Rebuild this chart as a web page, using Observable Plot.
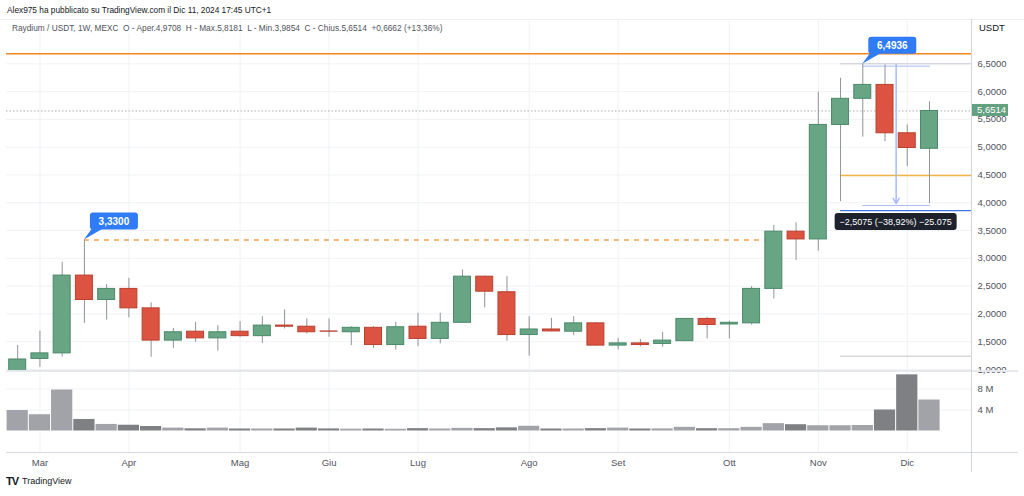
<!DOCTYPE html>
<html><head><meta charset="utf-8">
<script src="https://cdn.jsdelivr.net/npm/d3@7"></script>
<script src="https://cdn.jsdelivr.net/npm/@observablehq/plot@0.6"></script>
<style>
html,body{margin:0;padding:0;background:#fff;}
#root{position:relative;width:1024px;height:496px;overflow:hidden;font-family:"Liberation Sans",Arial,sans-serif;color:#131722;}
.abs{position:absolute;white-space:pre;}
</style></head><body><div id="root"></div>
<script>
// ---------- data ----------
const dates = ["2024-02-26","2024-03-04","2024-03-11","2024-03-18","2024-03-25","2024-04-01","2024-04-08","2024-04-15","2024-04-22","2024-04-29",
"2024-05-06","2024-05-13","2024-05-20","2024-05-27","2024-06-03","2024-06-10","2024-06-17","2024-06-24","2024-07-01","2024-07-08",
"2024-07-15","2024-07-22","2024-07-29","2024-08-05","2024-08-12","2024-08-19","2024-08-26","2024-09-02","2024-09-09","2024-09-16",
"2024-09-23","2024-09-30","2024-10-07","2024-10-14","2024-10-21","2024-10-28","2024-11-04","2024-11-11","2024-11-18","2024-11-25",
"2024-12-02","2024-12-09"];
const opens  = [0.97,1.19,1.29,2.69,2.25,2.45,2.10,1.52,1.68,1.56, 1.68,1.60,1.79,1.77,1.685,1.67,1.75,1.44,1.77,1.55, 1.84,2.67,2.39,1.62,1.72,1.68,1.83,1.43,1.47,1.46, 1.51,1.91,1.81,1.83,2.45,3.48,3.34,5.40,5.87,6.12, 5.25,4.9708];
const highs  = [1.43,1.69,2.93,3.33,2.53,2.64,2.20,1.74,1.85,1.79, 1.86,1.95,2.07,1.91,1.91,1.77,1.77,1.85,2.01,2.01, 2.79,2.68,2.67,1.95,1.92,1.95,1.84,1.56,1.54,1.67, 1.91,1.94,1.87,2.49,3.59,3.64,5.99,6.24,6.4936,6.48, 5.40,5.8181];
const lows   = [0.96,1.04,1.22,1.83,1.89,1.93,1.22,1.38,1.49,1.33, 1.58,1.47,1.73,1.64,1.58,1.43,1.38,1.35,1.41,1.46, 1.83,2.11,1.51,1.24,1.68,1.61,1.42,1.35,1.41,1.40, 1.50,1.55,1.55,1.80,2.27,2.96,3.13,4.02,5.18,5.10, 4.65,3.9854];
const closes = [1.18,1.29,2.69,2.25,2.45,2.10,1.52,1.67,1.56,1.67, 1.60,1.79,1.77,1.67,1.68,1.75,1.44,1.76,1.55,1.84, 2.67,2.40,1.62,1.72,1.685,1.83,1.43,1.47,1.44,1.52, 1.91,1.80,1.84,2.45,3.48,3.34,5.40,5.87,6.12,5.25, 4.9852,5.6514];
const volumes = [3.9,3.1,7.8,2.2,1.25,1.1,0.86,0.55,0.42,0.55, 0.38,0.38,0.38,0.55,0.4,0.35,0.38,0.33,0.45,0.38, 0.5,0.45,0.6,0.9,0.38,0.38,0.45,0.55,0.38,0.4, 0.7,0.44,0.44,0.7,1.4,1.2,1.0,1.0,1.05,4.0, 10.7,5.9]; // millions
const priceTicks = [1.0,1.5,2.0,2.5,3.0,3.5,4.0,4.5,5.0,5.5,6.0,6.5];
const volumeTicks = [4, 8];
const monthTickDates = ["2024-03-04","2024-04-01","2024-05-06","2024-06-03","2024-07-01","2024-08-05","2024-09-02","2024-10-07","2024-11-04","2024-12-02"];
const monthTickLabels = ["Mar","Apr","Mag","Giu","Lug","Ago","Set","Ott","Nov","Dic"];
const resistanceLevel = 6.68;
const marchHigh = 3.33;
const marchHighLabel = "3,3300";
const novemberHigh = 6.4936;
const novemberHighLabel = "6,4936";
const levelGray = 6.5, levelYellow = 4.49, levelBlue = 3.86, levelLow = 1.24;
const measureFrom = 6.4936, measureTo = 3.9861;
const measureLabel = "\u22122,5075 (\u221238,92%) \u221225.075";

// ---------- helpers ----------
const day = 864e5;
const candles = dates.map((d, i) => ({date: new Date(d), open: opens[i], high: highs[i], low: lows[i], close: closes[i], volume: volumes[i]}));
const monthDates = monthTickDates.map(d => new Date(d));
const labelByTime = new Map(monthDates.map((d, i) => [+d, monthTickLabels[i]]));
const xDomain = [new Date(+candles[0].date - 3.525 * day), new Date(+candles[candles.length - 1].date + 13.22 * day)];
const bodyHalf = 2.675 * day, volHalf = 3.34 * day;
const fmt4 = v => v.toFixed(4).replace(".", ",");
const up = d => d.close >= d.open;
const GREEN = "#67a585", GREEN_S = "#4b8969", RED = "#dd5341", RED_S = "#b9412f";
const FONT = '"Liberation Sans", Arial, sans-serif';
const last = candles[candles.length - 1];
const prevClose = candles[candles.length - 2].close;
const levelStart = candles[37].date;
const measureStart = candles[38].date, measureEnd = candles[41].date;
const measureX = new Date((+candles[39].date + +candles[40].date) / 2);

const root = document.getElementById("root");
function addDiv(style, text) {
  const d = document.createElement("div");
  d.className = "abs"; d.setAttribute("style", style);
  if (text != null) d.textContent = text;
  root.appendChild(d); return d;
}

// header
addDiv("left:7px;top:5px;font-size:8.3px;color:#131722;", "Alex975 ha pubblicato su TradingView.com il Dic 11, 2024 17:45 UTC+1");
addDiv("left:0;top:19px;width:1024px;height:1px;background:#eef0f3;");
const chg = last.close - prevClose;
const hdr = addDiv("left:12px;top:23px;font-size:8.3px;color:#50535e;z-index:3;background:rgba(255,255,255,0.85);");
hdr.textContent = `Raydium / USDT, 1W, MEXC  O - Aper.${fmt4(last.open)}  H - Max.${fmt4(last.high)}  L - Min.${fmt4(last.low)}  C - Chius.${fmt4(last.close)}  +${fmt4(chg)} (+${(chg / prevClose * 100).toFixed(2).replace(".", ",")}%)`;

// ---------- price pane ----------
const price = Plot.plot({
  width: 1024, height: 351,
  marginLeft: 6, marginRight: 53, marginTop: 0, marginBottom: 0,
  style: {fontFamily: FONT, fontSize: "9.5px", color: "#50535e", background: "transparent", overflow: "visible"},
  x: {type: "utc", domain: xDomain, axis: null},
  y: {domain: [0.982, 7.297], axis: null},
  marks: [
    Plot.ruleY(priceTicks, {stroke: "#f0f2f6"}),
    Plot.ruleX(monthDates, {stroke: "#f0f2f6"}),
    Plot.ruleY([last.close], {stroke: "#a9aeb5", strokeDasharray: "1.5,2"}),
    Plot.ruleY([resistanceLevel], {stroke: "#f5841f", strokeWidth: 1.6}),
    Plot.ruleY([marchHigh], {x1: () => candles[3].date, x2: () => new Date(+candles[34].date - bodyHalf), stroke: "#f5a14a", strokeWidth: 1.5, strokeDasharray: "5,5"}),
    Plot.ruleY([levelGray], {x1: () => levelStart, x2: () => xDomain[1], stroke: "#c9ccd6"}),
    Plot.ruleY([levelYellow], {x1: () => levelStart, x2: () => xDomain[1], stroke: "#f3b441", strokeWidth: 1.3}),
    Plot.ruleY([levelBlue], {x1: () => levelStart, x2: () => xDomain[1], stroke: "#3f74ec", strokeWidth: 1.3}),
    Plot.ruleY([levelLow], {x1: () => levelStart, x2: () => xDomain[1], stroke: "#c2c4ca"}),
    Plot.ruleY([measureFrom, measureTo], {x1: () => measureStart, x2: () => new Date(+measureEnd + bodyHalf * 0.1), stroke: "#a9bdf5", dy: 2}),
    Plot.arrow([0], {x1: () => measureX, x2: () => measureX, y1: () => measureFrom, y2: () => measureTo, stroke: "#a9bdf5", headLength: 6, bend: 0}),
    Plot.ruleX(candles, {x: "date", y1: "low", y2: "high", stroke: "#8f939a"}),
    Plot.rect(candles, {filter: up, x1: d => new Date(+d.date - bodyHalf), x2: d => new Date(+d.date + bodyHalf), y1: "open", y2: "close", fill: GREEN, stroke: GREEN_S}),
    Plot.rect(candles, {filter: d => !up(d), x1: d => new Date(+d.date - bodyHalf), x2: d => new Date(+d.date + bodyHalf), y1: "open", y2: "close", fill: RED, stroke: RED_S}),
    Plot.axisY(priceTicks, {anchor: "right", tickSize: 0, tickPadding: 6, tickFormat: fmt4, label: null, fill: "#50535e"})
  ]
});
price.style.position = "absolute"; price.style.left = "0px"; price.style.top = "19px";
root.appendChild(price);

{
  const sx = price.scale("x"), sy = price.scale("y");
  const svg = d3.select(price);
  const g = svg.append("g").attr("font-family", FONT);
  function callout(date, value, text) {
    const ax = sx.apply(date), ay = sy.apply(value);
    const w = 48, h = 17, bx = ax + 6, by = ay - 10 - h;
    g.append("path").attr("d", `M${ax},${ay}L${bx + 2},${by + h - 1}L${bx + 13},${by + h - 1}Z`).attr("fill", "#2f7cf6");
    g.append("rect").attr("x", bx).attr("y", by).attr("width", w).attr("height", h).attr("rx", 3).attr("fill", "#2f7cf6");
    g.append("text").attr("x", bx + w / 2).attr("y", by + h / 2).attr("dy", "0.36em").attr("text-anchor", "middle")
      .attr("fill", "#fff").attr("font-size", "10px").attr("font-weight", "bold").text(text);
  }
  callout(candles[3].date, marchHigh, marchHighLabel);
  callout(candles[38].date, novemberHigh, novemberHighLabel);
  // measurement label
  const mx = sx.apply(measureX), my = sy.apply(measureTo);
  const mw = 122, mh = 17;
  g.append("rect").attr("x", mx - mw / 2).attr("y", my + 10).attr("width", mw).attr("height", mh).attr("rx", 3).attr("fill", "#1e222d");
  g.append("text").attr("x", mx).attr("y", my + 10 + mh / 2).attr("dy", "0.36em").attr("text-anchor", "middle")
    .attr("fill", "#fff").attr("font-size", "9px").text(measureLabel);
  // last price label
  const ly = sy.apply(last.close), lx = sx.range[1];
  g.append("rect").attr("x", lx + 1).attr("y", ly - 6.5).attr("width", 36).attr("height", 12).attr("fill", "#63a07f");
  g.append("text").attr("x", lx + 6).attr("y", ly - 0.5).attr("dy", "0.36em").attr("text-anchor", "start")
    .attr("fill", "#fff").attr("font-size", "9.5px").text(fmt4(last.close));
}

// ---------- volume pane ----------
const vol = Plot.plot({
  width: 1024, height: 105,
  marginLeft: 6, marginRight: 53, marginTop: 0, marginBottom: 44.5,
  style: {fontFamily: FONT, fontSize: "9.5px", color: "#50535e", background: "transparent", overflow: "visible"},
  x: {type: "utc", domain: xDomain, axis: null},
  y: {domain: [0, 11.524], axis: null},
  marks: [
    Plot.ruleY(volumeTicks, {stroke: "#f0f2f6"}),
    Plot.ruleX(monthDates, {stroke: "#f0f2f6", insetBottom: -21.5}),
    Plot.rect(candles, {filter: up, x1: d => new Date(+d.date - volHalf), x2: d => new Date(+d.date + volHalf), y1: 0, y2: "volume", fill: "#a2a3a8"}),
    Plot.rect(candles, {filter: d => !up(d), x1: d => new Date(+d.date - volHalf), x2: d => new Date(+d.date + volHalf), y1: 0, y2: "volume", fill: "#7f8084"}),
    Plot.axisY(volumeTicks, {anchor: "right", tickSize: 0, tickPadding: 6, tickFormat: d => d + " M", label: null, fill: "#50535e"}),
    Plot.axisX(monthDates, {tickSize: 0, tickPadding: 28, tickFormat: d => labelByTime.get(+d), label: null, fill: "#50535e"})
  ]
});
vol.style.position = "absolute"; vol.style.left = "0px"; vol.style.top = "370px";
root.appendChild(vol);

// frame lines
addDiv("left:6px;top:370px;width:1012px;height:2px;background:#e6e8ed;");
addDiv("left:6px;top:452px;width:1012px;height:1px;background:#d6d9e0;");
addDiv("left:971px;top:19px;width:1px;height:453px;background:#d1d4dc;");
addDiv("left:979px;top:22px;font-size:9.5px;color:#131722;", "USDT");

// footer
addDiv("left:6px;top:475px;font-size:11px;font-weight:bold;letter-spacing:-1px;color:#131722;", "TV");
addDiv("left:22px;top:476px;font-size:9px;color:#131722;", "TradingView");
</script></body></html>
